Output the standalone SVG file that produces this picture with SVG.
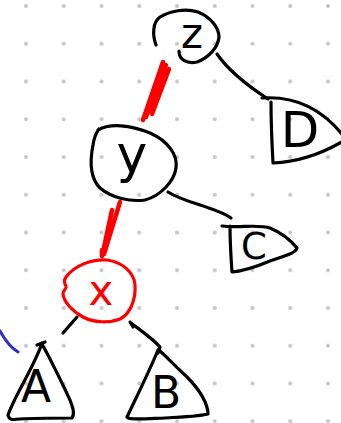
<svg xmlns="http://www.w3.org/2000/svg" width="341" height="423" viewBox="0 0 341 423">
<style>
.ink{fill:none;stroke:#000;stroke-width:3.2;stroke-linecap:round;stroke-linejoin:round}
.red{fill:none;stroke:#ff0000;stroke-width:3.2;stroke-linecap:round;stroke-linejoin:round}
.thick{fill:none;stroke:#ff0000;stroke-width:4.5;stroke-linecap:round}
.blue{fill:none;stroke:#2f2fd0;stroke-width:3;stroke-linecap:round}
.lbl{font-family:"DejaVu Sans",sans-serif;text-anchor:middle;fill:#000}
</style>
<defs>
<pattern id="dots" patternUnits="userSpaceOnUse" x="7.125" y="-12.875" width="37.75" height="37.75">
<circle cx="18.875" cy="18.875" r="2.1" fill="#c6c6c6"/>
</pattern>
</defs>
<rect width="341" height="423" fill="#fff"/>
<rect width="341" height="423" fill="url(#dots)"/>
<g id="connectors">
<path class="thick" d="M163,62 L143,120 M169,69 L152,114 M166,65 L146,117"/>
<path class="thick" d="M120,202 L104,254 M112,210 L103,252 M102,250 L102,256"/>
<path class="ink" d="M217,54 C228,70 245,84 268,99"/>
<path class="ink" d="M168,192 C185,203 215,207 231,218"/>
<path class="ink" d="M77,317 L63,333"/>
<path class="ink" d="M131,323 C140,330 152,338 160,347 L158,353 M130,322 L133,327"/>
</g>
<g id="annotation">
<path class="blue" d="M0,331 C5,340 11,348 18,352"/>
</g>
<g id="node-z">
<path class="ink" d="M156,45 C152,34 153,22 160,17 C170,11 185,8 198,12 C210,17 219,27 219,37 C218,48 208,58 197,62 C187,64 179,60 179,51"/>
<text class="lbl" x="192" y="48" font-size="42">z</text>
</g>
<g id="node-y">
<path class="ink" d="M98,130 C110,123 130,125 150,133 C168,141 178,155 176,168 C174,182 160,196 145,200 C130,202 112,198 100,188 C90,178 90,160 93,145 C94,138 96,133 99,129"/>
<text class="lbl" x="132" y="172" font-size="52">y</text>
</g>
<g id="node-x">
<path class="red" d="M66,277 C75,265 92,259 107,260 C122,262 134,272 135,285 C136,300 130,314 120,319 C110,323 94,323 83,317 C72,311 64,302 63,294 C63,289 67,290 66,286 C64,283 64,280 66,277"/>
<text class="lbl" x="101" y="305" font-size="42" style="fill:#ff0000">x</text>
</g>
<g id="node-D">
<path class="ink" d="M262,98 C290,96 320,105 345,138 M271,102 C271,120 272,145 273,163 C295,162 320,155 345,140"/>
<text class="lbl" x="300" y="147" font-size="50">D</text>
</g>
<g id="node-C">
<path class="ink" d="M222,226 C240,228 258,224 270,228 C282,233 292,242 297,248 C296,253 285,256 270,261 C258,266 245,271 232,272 M230,226 C230,240 231,258 232,272"/>
<text class="lbl" x="254" y="259" font-size="37">C</text>
</g>
<g id="node-A">
<path class="ink" d="M37,345 L45,342 M42,343 C35,365 15,395 8,415 C9,420 12,420 20,419 C35,418 55,418 72,418 C75,414 73,408 70,400 C63,385 52,362 42,344"/>
<text class="lbl" x="36" y="402" font-size="44">A</text>
</g>
<g id="node-B">
<path class="ink" d="M158,350 C150,370 135,400 127,417 C128,420 140,419 165,418 C185,417 200,416 208,414 C208,404 200,390 187,377 C176,367 168,358 160,351"/>
<text class="lbl" x="166" y="408" font-size="44">B</text>
</g>
</svg>
